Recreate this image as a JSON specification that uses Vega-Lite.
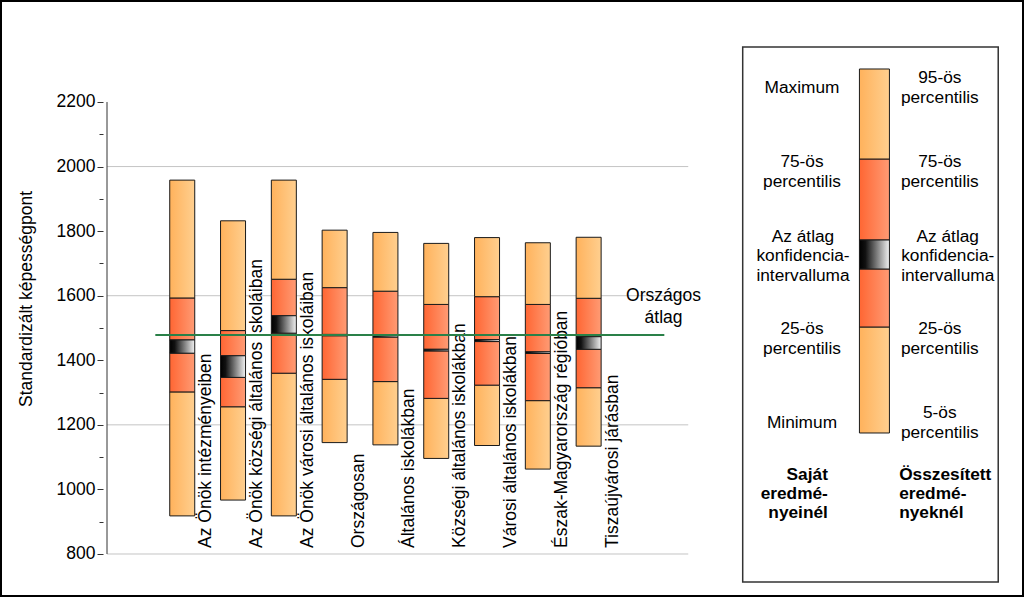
{
  "$schema": "https://vega.github.io/schema/vega-lite/v6.json",
  "width": 1024,
  "height": 597,
  "autosize": "none",
  "padding": 0,
  "background": "white",
  "view": {"stroke": "black", "strokeWidth": 4},
  "config": {"font": "Liberation Sans", "text": {"font": "Liberation Sans", "fontSize": 17.5, "color": "black"}},
  "datasets": {
    "groups": [
      {"i": 1, "cat": "Az Önök intézményeiben", "min": 918, "p25": 1302, "cilo": 1422, "cihi": 1463, "p75": 1593, "max": 1958},
      {"i": 2, "cat": "Az Önök községi általános iskoláiban", "min": 967, "p25": 1256, "cilo": 1347, "cihi": 1414, "p75": 1492, "max": 1832},
      {"i": 3, "cat": "Az Önök városi általános iskoláiban", "min": 918, "p25": 1360, "cilo": 1484, "cihi": 1538, "p75": 1651, "max": 1958},
      {"i": 4, "cat": "Országosan", "min": 1145, "p25": 1341, "cilo": 1476, "cihi": 1480, "p75": 1625, "max": 1803},
      {"i": 5, "cat": "Általános iskolákban", "min": 1138, "p25": 1334, "cilo": 1472, "cihi": 1477, "p75": 1614, "max": 1796},
      {"i": 6, "cat": "Községi általános iskolákban", "min": 1096, "p25": 1282, "cilo": 1429, "cihi": 1434, "p75": 1573, "max": 1762},
      {"i": 7, "cat": "Városi általános iskolákban", "min": 1136, "p25": 1323, "cilo": 1458, "cihi": 1464, "p75": 1597, "max": 1780},
      {"i": 8, "cat": "Észak-Magyarország régióban", "min": 1063, "p25": 1275, "cilo": 1421, "cihi": 1426, "p75": 1573, "max": 1764},
      {"i": 9, "cat": "Tiszaújvárosi járásban", "min": 1134, "p25": 1315, "cilo": 1434, "cihi": 1473, "p75": 1592, "max": 1781}
    ],
    "legendbox": [
      {"i": 14.626, "min": 1174.8, "p25": 1503.1, "cilo": 1682.7, "cihi": 1772.5, "p75": 2023.4, "max": 2302.2}
    ],
    "legendtext": [
      {"t": "Maximum", "i": 13.2, "v": 2242.4},
      {"t": "75-ös\npercentilis", "i": 13.2, "v": 2013.2},
      {"t": "Az átlag\nkonfidencia-\nintervalluma", "i": 13.22, "v": 1782.8},
      {"t": "25-ös\npercentilis", "i": 13.2, "v": 1495.9},
      {"t": "Minimum", "i": 13.2, "v": 1206.7},
      {"t": "95-ös\npercentilis", "i": 15.913, "v": 2274.3},
      {"t": "75-ös\npercentilis", "i": 15.913, "v": 2013.2},
      {"t": "Az átlag\nkonfidencia-\nintervalluma", "i": 16.069, "v": 1782.8},
      {"t": "25-ös\npercentilis", "i": 15.913, "v": 1495.9},
      {"t": "5-ös\npercentilis", "i": 15.913, "v": 1235.8}
    ],
    "legendboldleft": [
      {"t": "Saját\neredmé-\nnyeinél", "i": 13.71, "v": 1044.7}
    ],
    "legendboldright": [
      {"t": "Összesített\neredmé-\nnyeknél", "i": 15.113, "v": 1044.7}
    ]
  },
  "layer": [
    {
      "data": {"values": [{"g": 800}, {"g": 1200}, {"g": 1600}, {"g": 2000}]},
      "mark": {"type": "rule", "color": "#c4c4c4", "strokeWidth": 1},
      "encoding": {
        "x": {"datum": -0.481, "type": "quantitative", "scale": {"domain": [-2.489, 17.472], "nice": false, "zero": false}, "axis": null},
        "x2": {"datum": 10.961},
        "y": {
          "field": "g", "type": "quantitative",
          "scale": {"domain": [666.8, 2515.9], "nice": false, "zero": false},
          "axis": {
            "title": "Standardizált képességpont",
            "offset": -103,
            "domain": false,
            "grid": false,
            "values": [800, 850, 900, 950, 1000, 1050, 1100, 1150, 1200, 1250, 1300, 1350, 1400, 1450, 1500, 1550, 1600, 1650, 1700, 1750, 1800, 1850, 1900, 1950, 2000, 2050, 2100, 2150, 2200],
            "format": "d",
            "labelExpr": "datum.value % 200 === 0 ? datum.label : ''",
            "tickSize": {"condition": {"test": "datum.value % 200 === 0", "value": 6}, "value": 4},
            "tickColor": "#333333",
            "labelFont": "Liberation Sans",
            "labelFontSize": 17.5,
            "labelColor": "black",
            "labelPadding": 2,
            "titleFont": "Liberation Sans",
            "titleFontSize": 17.5,
            "titleFontWeight": "normal",
            "titleColor": "black",
            "titlePadding": 21
          }
        }
      }
    },
    {
      "data": {"values": [{}]},
      "mark": {"type": "rule", "color": "#333333", "strokeWidth": 1},
      "encoding": {
        "x": {"datum": -0.481, "type": "quantitative"},
        "y": {"datum": 800, "type": "quantitative"},
        "y2": {"datum": 2200}
      }
    },
    {
      "data": {"name": "groups"},
      "mark": {"type": "bar", "width": 25, "stroke": "#1a1a1a", "strokeWidth": 1,
        "color": {"gradient": "linear", "x1": 0, "y1": 0, "x2": 1, "y2": 0, "stops": [{"offset": 0, "color": "#ffb25c"}, {"offset": 1, "color": "#ffcf8f"}]}},
      "encoding": {"x": {"field": "i", "type": "quantitative"}, "y": {"field": "min", "type": "quantitative"}, "y2": {"field": "p25"}}
    },
    {
      "data": {"name": "groups"},
      "mark": {"type": "bar", "width": 25, "stroke": "#1a1a1a", "strokeWidth": 1,
        "color": {"gradient": "linear", "x1": 0, "y1": 0, "x2": 1, "y2": 0, "stops": [{"offset": 0, "color": "#ff6633"}, {"offset": 1, "color": "#ff9b74"}]}},
      "encoding": {"x": {"field": "i", "type": "quantitative"}, "y": {"field": "p25", "type": "quantitative"}, "y2": {"field": "cilo"}}
    },
    {
      "data": {"name": "groups"},
      "mark": {"type": "bar", "width": 25, "stroke": "#1a1a1a", "strokeWidth": 1,
        "color": {"gradient": "linear", "x1": 0, "y1": 0, "x2": 1, "y2": 0, "stops": [{"offset": 0, "color": "#ff6633"}, {"offset": 1, "color": "#ff9b74"}]}},
      "encoding": {"x": {"field": "i", "type": "quantitative"}, "y": {"field": "cihi", "type": "quantitative"}, "y2": {"field": "p75"}}
    },
    {
      "data": {"name": "groups"},
      "mark": {"type": "bar", "width": 25, "stroke": "#1a1a1a", "strokeWidth": 1,
        "color": {"gradient": "linear", "x1": 0, "y1": 0, "x2": 1, "y2": 0, "stops": [{"offset": 0, "color": "#ffb25c"}, {"offset": 1, "color": "#ffcf8f"}]}},
      "encoding": {"x": {"field": "i", "type": "quantitative"}, "y": {"field": "p75", "type": "quantitative"}, "y2": {"field": "max"}}
    },
    {
      "data": {"name": "groups"},
      "mark": {"type": "bar", "width": 25, "stroke": "#1a1a1a", "strokeWidth": 1,
        "color": {"gradient": "linear", "x1": 0, "y1": 0, "x2": 1, "y2": 0, "stops": [{"offset": 0, "color": "#000000"}, {"offset": 0.2, "color": "#111111"}, {"offset": 1, "color": "#f2f2f2"}]}},
      "encoding": {"x": {"field": "i", "type": "quantitative"}, "y": {"field": "cilo", "type": "quantitative"}, "y2": {"field": "cihi"}}
    },
    {
      "data": {"name": "groups"},
      "mark": {"type": "text", "angle": 270, "align": "left", "baseline": "middle", "xOffset": 24, "yOffset": -6, "fontSize": 17.5, "font": "Liberation Sans"},
      "encoding": {"x": {"field": "i", "type": "quantitative"}, "y": {"datum": 800, "type": "quantitative"}, "text": {"field": "cat"}}
    },
    {
      "data": {"values": [{"atlag": 1478}]},
      "mark": {"type": "rule", "color": "#2a8048", "strokeWidth": 2},
      "encoding": {"x": {"datum": 0.47, "type": "quantitative"}, "x2": {"datum": 10.49}, "y": {"field": "atlag", "type": "quantitative"}}
    },
    {
      "data": {"values": [{"t": "Országos\nátlag"}]},
      "mark": {"type": "text", "align": "center", "baseline": "middle", "lineBreak": "\n", "lineHeight": 22, "fontSize": 17.5, "font": "Liberation Sans"},
      "encoding": {"x": {"datum": 10.474, "type": "quantitative"}, "y": {"datum": 1599.1, "type": "quantitative"}, "text": {"field": "t"}}
    },
    {
      "data": {"values": [{}]},
      "mark": {"type": "rect", "fill": null, "fillOpacity": 0, "stroke": "#333333", "strokeWidth": 1.5},
      "encoding": {"x": {"datum": 12.033, "type": "quantitative"}, "x2": {"datum": 17.063}, "y": {"datum": 2370.3, "type": "quantitative"}, "y2": {"datum": 713.3}}
    },
    {
      "data": {"name": "legendbox"},
      "mark": {"type": "bar", "width": 30, "stroke": "#1a1a1a", "strokeWidth": 1,
        "color": {"gradient": "linear", "x1": 0, "y1": 0, "x2": 1, "y2": 0, "stops": [{"offset": 0, "color": "#ffb25c"}, {"offset": 1, "color": "#ffcf8f"}]}},
      "encoding": {"x": {"field": "i", "type": "quantitative"}, "y": {"field": "min", "type": "quantitative"}, "y2": {"field": "p25"}}
    },
    {
      "data": {"name": "legendbox"},
      "mark": {"type": "bar", "width": 30, "stroke": "#1a1a1a", "strokeWidth": 1,
        "color": {"gradient": "linear", "x1": 0, "y1": 0, "x2": 1, "y2": 0, "stops": [{"offset": 0, "color": "#ff6633"}, {"offset": 1, "color": "#ff9b74"}]}},
      "encoding": {"x": {"field": "i", "type": "quantitative"}, "y": {"field": "p25", "type": "quantitative"}, "y2": {"field": "cilo"}}
    },
    {
      "data": {"name": "legendbox"},
      "mark": {"type": "bar", "width": 30, "stroke": "#1a1a1a", "strokeWidth": 1,
        "color": {"gradient": "linear", "x1": 0, "y1": 0, "x2": 1, "y2": 0, "stops": [{"offset": 0, "color": "#ff6633"}, {"offset": 1, "color": "#ff9b74"}]}},
      "encoding": {"x": {"field": "i", "type": "quantitative"}, "y": {"field": "cihi", "type": "quantitative"}, "y2": {"field": "p75"}}
    },
    {
      "data": {"name": "legendbox"},
      "mark": {"type": "bar", "width": 30, "stroke": "#1a1a1a", "strokeWidth": 1,
        "color": {"gradient": "linear", "x1": 0, "y1": 0, "x2": 1, "y2": 0, "stops": [{"offset": 0, "color": "#ffb25c"}, {"offset": 1, "color": "#ffcf8f"}]}},
      "encoding": {"x": {"field": "i", "type": "quantitative"}, "y": {"field": "p75", "type": "quantitative"}, "y2": {"field": "max"}}
    },
    {
      "data": {"name": "legendbox"},
      "mark": {"type": "bar", "width": 30, "stroke": "#1a1a1a", "strokeWidth": 1,
        "color": {"gradient": "linear", "x1": 0, "y1": 0, "x2": 1, "y2": 0, "stops": [{"offset": 0, "color": "#000000"}, {"offset": 0.2, "color": "#111111"}, {"offset": 1, "color": "#f2f2f2"}]}},
      "encoding": {"x": {"field": "i", "type": "quantitative"}, "y": {"field": "cilo", "type": "quantitative"}, "y2": {"field": "cihi"}}
    },
    {
      "data": {"name": "legendtext"},
      "mark": {"type": "text", "align": "center", "baseline": "middle", "lineBreak": "\n", "lineHeight": 19.5, "fontSize": 17.3, "font": "Liberation Sans"},
      "encoding": {"x": {"field": "i", "type": "quantitative"}, "y": {"field": "v", "type": "quantitative"}, "text": {"field": "t"}}
    },
    {
      "data": {"name": "legendboldleft"},
      "mark": {"type": "text", "align": "right", "baseline": "middle", "lineBreak": "\n", "lineHeight": 19.2, "fontSize": 17.3, "fontWeight": "bold", "font": "Liberation Sans"},
      "encoding": {"x": {"field": "i", "type": "quantitative"}, "y": {"field": "v", "type": "quantitative"}, "text": {"field": "t"}}
    },
    {
      "data": {"name": "legendboldright"},
      "mark": {"type": "text", "align": "left", "baseline": "middle", "lineBreak": "\n", "lineHeight": 19.2, "fontSize": 17.3, "fontWeight": "bold", "font": "Liberation Sans"},
      "encoding": {"x": {"field": "i", "type": "quantitative"}, "y": {"field": "v", "type": "quantitative"}, "text": {"field": "t"}}
    }
  ]
}
